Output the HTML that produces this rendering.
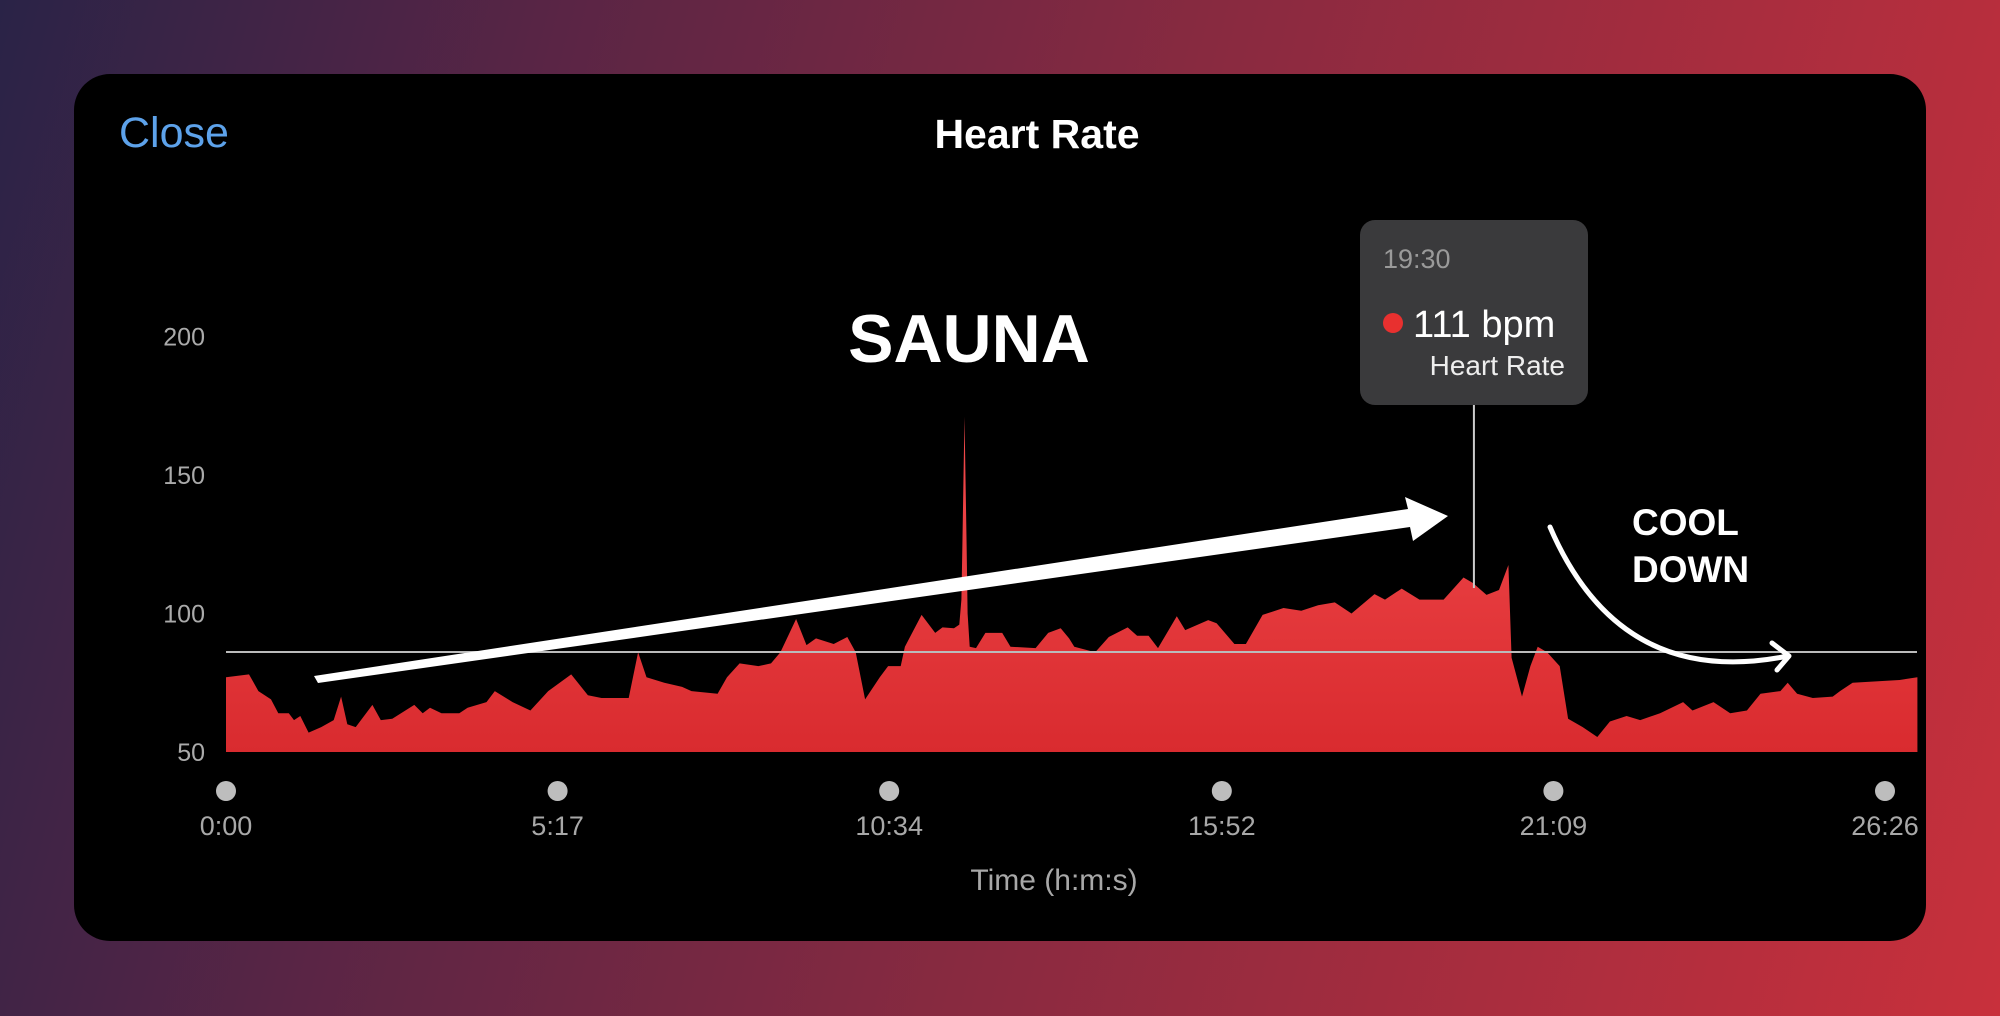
<!DOCTYPE html>
<html><head><meta charset="utf-8">
<style>
html,body{margin:0;padding:0;width:2000px;height:1016px;overflow:hidden;}
body{background:linear-gradient(105deg,#2a2347 0%,#5a2545 25%,#8a2a40 55%,#c8303c 100%);font-family:"Liberation Sans",sans-serif;}
svg{position:absolute;left:0;top:0;}
</style></head>
<body>
<svg width="2000" height="1016" viewBox="0 0 2000 1016">
<defs>
<linearGradient id="fillG" x1="0" y1="0" x2="0" y2="1">
<stop offset="0" stop-color="#f24a4c"/><stop offset="1" stop-color="#d92b2f"/>
</linearGradient>
</defs>
<rect x="74" y="74" width="1852" height="867" rx="36" fill="#000"/>
<text x="119" y="147" font-size="43" fill="#5da2ea">Close</text>
<text x="1037" y="148" font-size="41" font-weight="bold" fill="#fff" text-anchor="middle">Heart Rate</text>
<g id="yAxis"></g>
<g id="xAxis"></g>
<path id="area" fill="url(#fillG)"/>
<line x1="226" y1="652" x2="1917" y2="652" stroke="#bbb" stroke-width="2"/>
<text x="1054" y="890" font-size="30" fill="#a8a8a8" text-anchor="middle">Time (h:m:s)</text>
<text x="969" y="362" font-size="68" font-weight="bold" fill="#fff" text-anchor="middle">SAUNA</text>
<polygon points="314,676 1408,509 1405,497 1448,516 1413,541 1410,527 318,683" fill="#fff"/>
<text x="1632" y="535" font-size="37" font-weight="bold" fill="#fff">COOL</text>
<text x="1632" y="582" font-size="37" font-weight="bold" fill="#fff">DOWN</text>
<path d="M1550,527 Q1620,690 1788,656" fill="none" stroke="#fff" stroke-width="5" stroke-linecap="round"/>
<path d="M1772,643 L1789,656 L1777,670" fill="none" stroke="#fff" stroke-width="5" stroke-linecap="round" stroke-linejoin="round"/>
<line id="cursor" y1="405" stroke="#ccc" stroke-width="2"/>
<g>
<rect x="1360" y="220" width="228" height="185" rx="15" fill="#3a3a3c"/>
<text x="1383" y="268" font-size="27" fill="#9a9a9a">19:30</text>
<circle cx="1393" cy="323" r="10" fill="#e8302f"/>
<text x="1413" y="337" font-size="38" fill="#fff">111 bpm</text>
<text x="1565" y="375" font-size="28" fill="#eee" text-anchor="end">Heart Rate</text>
</g>
</svg>
<script>
const times=[0,22,31,43,50,60,65,71,79,91,103,110,116,124,140,148,159,180,188,195,206,223,231,249,257,274,291,308,330,346,359,385,394,402,419,436,445,470,479,491,509,521,530,545,555,564,581,594,602,611,625,633,645,649,665,678,685,696,701,703,704,706,708,709,711,717,726,742,750,774,786,798,806,811,831,844,862,871,882,891,909,917,939,947,964,975,991,1011,1028,1044,1060,1076,1098,1108,1124,1141,1164,1183,1192,1205,1217,1226,1229,1239,1247,1254,1263,1275,1283,1297,1311,1323,1339,1352,1371,1393,1402,1422,1438,1454,1467,1486,1493,1502,1517,1536,1543,1555,1600,1617];
const bpm=[77,78,72,69,64,64,61.5,63,57,59,61.5,70,60,59,67,61.5,62,67,64,66,64,64,66,68,72,68,65,72,78,70.5,69.5,69.5,86,77,75,73.5,72,71,77,82,81,82,86,98,88.6,91,89,91.5,86,69,77,81,81,88,99.5,93,95,94.7,96,105,125,171,125,100,88,87.5,93,93,88,87.5,93,94.7,91,88,86,91.5,95,92,92,87.5,99,94,97.6,96.5,89,89,99.5,102,101,103,104,100,107,105,109,105,105,113,111,106.7,108.5,117.5,84,70,81,88,86,81,62,59,55.4,61,63,61.5,64,68,65,68,64,65,71,72,75,71,69.5,70,72,75,76,77];
const yTicks=[50,100,150,200];
const xTickSecs=[0,317,634,952,1269,1586];
const xTickLabels=["0:00","5:17","10:34","15:52","21:09","26:26"];
const cursorSec=1193;

const NS="http://www.w3.org/2000/svg";
function x(t){return 226+t*(1885-226)/1586;}
function y(v){return 752-(v-50)*2.77;}
let d="M"+x(times[0])+","+y(50);
for(let i=0;i<times.length;i++){d+=" L"+x(times[i]).toFixed(1)+","+y(bpm[i]).toFixed(1);}
d+=" L"+x(times[times.length-1])+","+y(50)+" Z";
document.getElementById('area').setAttribute('d',d);
const ya=document.getElementById('yAxis');
yTicks.forEach(v=>{
 const t=document.createElementNS(NS,'text');
 t.setAttribute('x',205);t.setAttribute('y',y(v)+9);
 t.setAttribute('font-size','25');t.setAttribute('fill','#aaa');t.setAttribute('text-anchor','end');
 
 
 t.textContent=v;ya.appendChild(t);
});
const xa=document.getElementById('xAxis');
xTickSecs.forEach((s,i)=>{
 const c=document.createElementNS(NS,'circle');
 c.setAttribute('cx',x(s));c.setAttribute('cy',791);c.setAttribute('r',10);c.setAttribute('fill','#bdbdbd');
 
 
 xa.appendChild(c);
 const t=document.createElementNS(NS,'text');
 t.setAttribute('x',x(s));t.setAttribute('y',835);
 t.setAttribute('font-size','27');t.setAttribute('fill','#a8a8a8');t.setAttribute('text-anchor','middle');
 
 
 t.textContent=xTickLabels[i];xa.appendChild(t);
});
const cur=document.getElementById('cursor');
cur.setAttribute('x1',x(cursorSec));cur.setAttribute('x2',x(cursorSec));cur.setAttribute('y2',y(111)+5);
</script>
</body></html>
